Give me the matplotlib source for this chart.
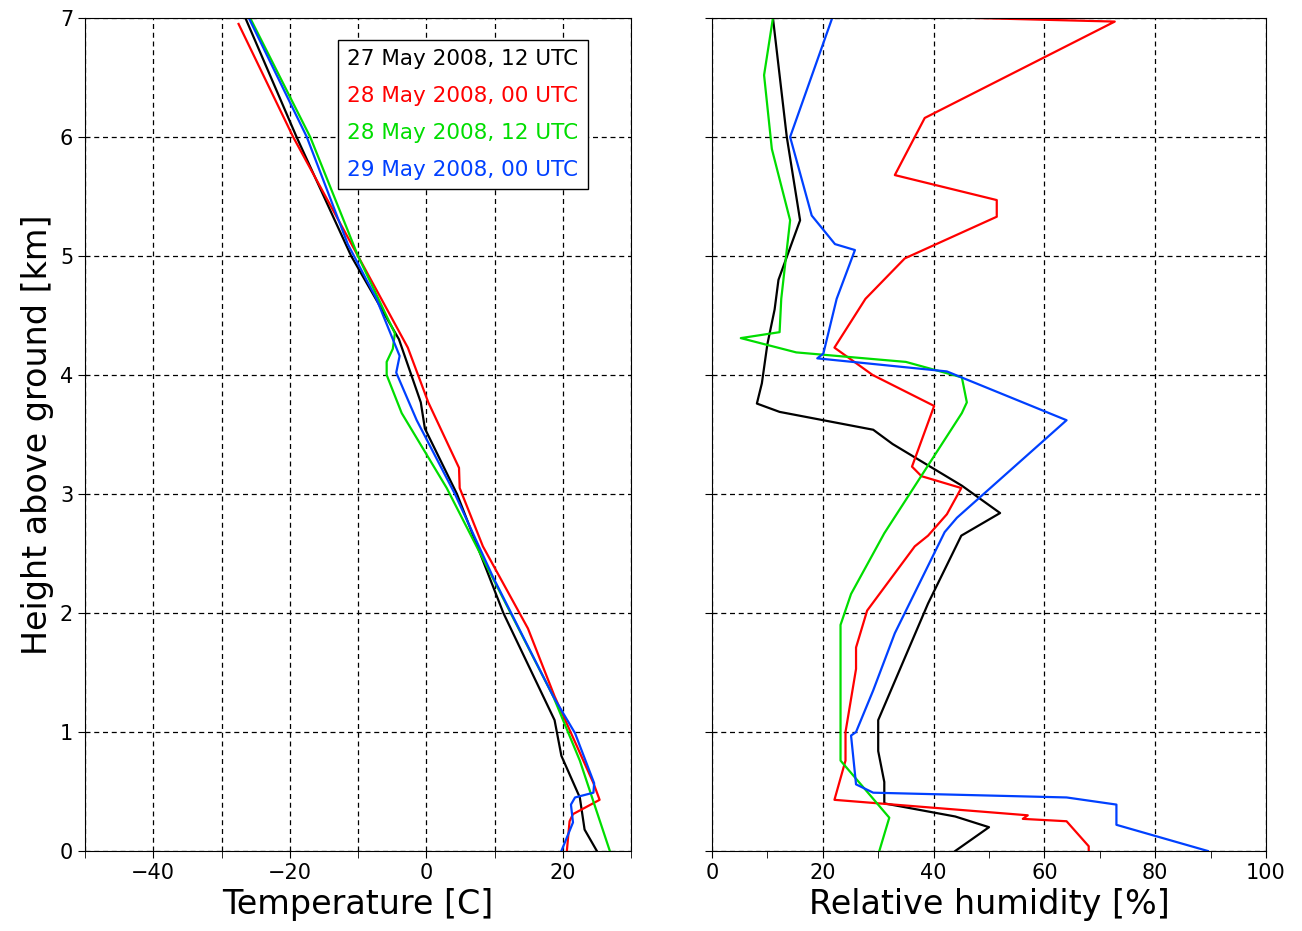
import numpy as np
import matplotlib.pyplot as plt
from matplotlib.lines import Line2D

# temperature profiles (height km, T in C)
h_t_k = [0, 0.18, 0.45, 0.8, 1.1, 2.0, 3.0, 3.55, 3.77, 4.3, 5.0, 6.0, 7.0]
t_k = [25, 23.2, 22.5, 19.8, 18.8, 11.3, 4.5, -0.2, -0.8, -4, -11, -19, -26.5]
h_t_r = [0, 0.25, 0.31, 0.43, 0.57, 1.3, 1.87, 2.56, 3.05, 3.22, 3.77, 4.23, 5.0, 6.0, 6.95]
t_r = [20.6, 21.0, 21.5, 25.4, 24.5, 18.8, 14.9, 8.3, 4.9, 4.8, 0.3, -2.7, -10, -19.5, -27.5]
h_t_b = [0, 0.24, 0.39, 0.45, 0.49, 0.57, 0.99, 1.3, 2.3, 3.0, 3.62, 4.02, 4.16, 4.64, 5.1, 6.0, 7.0]
t_b = [19.8, 21.5, 21.2, 21.8, 24.5, 24.6, 21.8, 18.6, 9.8, 4.2, -1.4, -4.4, -3.9, -7.3, -11.5, -17.5, -26]
h_t_g = [0, 0.76, 1.3, 3.05, 3.68, 4.0, 4.11, 4.22, 4.35, 5.0, 6.0, 7.0]
t_g = [26.9, 22.5, 18.6, 3.0, -3.6, -5.8, -5.8, -4.9, -4.6, -10, -17, -25.8]

# relative humidity profiles (height km, RH %)
h_r_k = [0, 0.2, 0.29, 0.4, 0.58, 0.84, 1.1, 2.08, 2.65, 2.84, 3.07, 3.42, 3.54, 3.69, 3.76, 3.93, 4.26, 4.55, 4.8, 5.3, 6.0, 7.0]
rh_k = [43.9, 50, 43.9, 31.1, 31.1, 30, 30, 39, 45, 52, 45.1, 32.6, 29.1, 12.2, 8.1, 9, 10, 11.3, 12, 15.9, 13.5, 11]
h_r_r = [0, 0.04, 0.25, 0.27, 0.3, 0.43, 0.76, 1.0, 1.53, 1.71, 2.02, 2.56, 2.65, 2.83, 3.05, 3.15, 3.23, 3.74, 4.0, 4.23,
         4.64, 4.98, 5.33, 5.47, 5.68, 6.16, 6.97, 7.0]
rh_r = [68, 68, 64, 56.1, 57, 22.1, 24.1, 24.1, 26, 26, 28, 36.6, 39, 42.4, 45, 37.8, 36.1, 40.1, 29, 22.1,
        27.7, 34.8, 51.4, 51.4, 33, 38.4, 72.7, 47.5]
h_r_b = [0, 0.22, 0.39, 0.45, 0.49, 0.56, 0.97, 1.0, 1.35, 1.83, 2.68, 2.8, 3.62, 4.03, 4.14, 4.18, 4.64, 5.05, 5.1, 5.34, 6.0, 7.0]
rh_b = [89.5, 73, 73, 64, 29.1, 26, 25.1, 26, 29.1, 33, 42, 44.2, 64, 42.4, 19.0, 20.1, 22.5, 25.8, 22.2, 18, 14.1, 21.7]
h_r_g = [0, 0.28, 0.76, 1.9, 2.16, 2.67, 3.68, 3.77, 3.98, 4.11, 4.19, 4.31, 4.36, 4.64, 5.3, 5.9, 6.52, 7.0]
rh_g = [30.2, 32, 23.2, 23.2, 25.1, 31.1, 45.1, 46, 45.1, 35, 15.2, 5.2, 12.2, 12.5, 14.1, 10.8, 9.4, 11]

labels = ["27 May 2008, 12 UTC", "28 May 2008, 00 UTC", "28 May 2008, 12 UTC", "29 May 2008, 00 UTC"]
colors = ["black", "#ff0000", "#00dd00", "#0040ff"]

fig = plt.figure(figsize=(13.02, 9.31), dpi=100)
ax1 = fig.add_axes([85/1302, 80/931, 546/1302, 833/931])
ax2 = fig.add_axes([712/1302, 80/931, 554/1302, 833/931])

t_data = [(t_k, h_t_k), (t_r, h_t_r), (t_g, h_t_g), (t_b, h_t_b)]
rh_data = [(rh_k, h_r_k), (rh_r, h_r_r), (rh_g, h_r_g), (rh_b, h_r_b)]
for (x, y), c in zip(t_data, colors):
    ax1.plot(x, y, color=c, lw=1.6)
for (x, y), c in zip(rh_data, colors):
    ax2.plot(x, y, color=c, lw=1.6)

ax1.set_xlim(-50, 30)
ax1.set_xticks([-40, -20, 0, 20])
ax1.set_xticklabels(["\u221240", "\u221220", "0", "20"])
ax1.set_ylim(0, 7)
ax1.set_yticks(range(8))
ax2.set_xlim(0, 100)
ax2.set_xticks(range(0, 101, 20))
ax2.set_ylim(0, 7)
ax2.set_yticks(range(8))
ax2.set_yticklabels([])

dash = (0, (4, 3))
for ax in (ax1, ax2):
    ax.xaxis.set_minor_locator(plt.MultipleLocator(10))
    ax.tick_params(labelsize=15, direction="out", length=5)
    ax.tick_params(which="minor", length=5)
ax1.grid(True, which="both", color="black", linestyle=dash, linewidth=0.9)
ax2.grid(True, which="major", color="black", linestyle=dash, linewidth=0.9)

ax1.set_xlabel("Temperature [C]", fontsize=24)
ax1.set_ylabel("Height above ground [km]", fontsize=24)
ax2.set_xlabel("Relative humidity [%]", fontsize=24)

handles = [Line2D([], [], color=c, lw=0) for c in colors]
leg = ax1.legend(handles, labels, loc="upper left", bbox_to_anchor=(0.463, 0.974),
                 borderaxespad=0, handlelength=0, handletextpad=0, fontsize=15.5,
                 labelcolor=colors, fancybox=False, edgecolor="black", framealpha=1,
                 borderpad=0.45, labelspacing=0.78)
leg.get_frame().set_linewidth(1.0)

fig.savefig("out.png", dpi=100)
